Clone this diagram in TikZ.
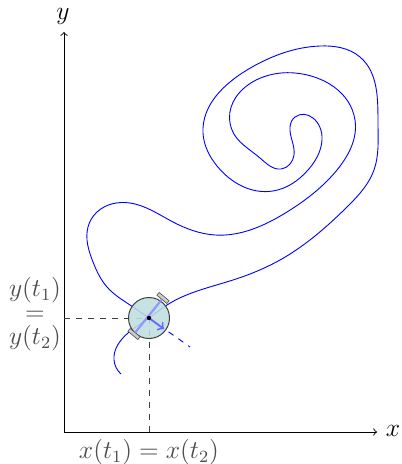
\documentclass[tikz,border=0pt]{standalone}
\usetikzlibrary{calc,hobby}
\definecolor{robotfill}{RGB}{190,222,222}
\begin{document}
\begin{tikzpicture}[x=0.5pt,y=-0.5pt,>=to,font=\fontsize{12}{11.2}\selectfont]
    \tikzset{
        axisline/.style={black,line width=0.45pt},
        axislabel/.style={inner sep=0pt,scale=1.07},
        projline/.style={black!75,dashed,line width=0.45pt},
        pathline/.style={blue,line width=0.45pt},
        readlabel/.style={text=black!70,inner sep=0pt,scale=1.07},
        robotbody/.style={draw=black!75,fill=robotfill,fill opacity=0.88,line width=0.5pt,circle,minimum size=20.5pt,inner sep=0pt},
        wheelbox/.style={draw=black!70,fill=black!20,line width=0.3pt,rectangle,minimum width=6.5pt,minimum height=1.8pt,inner sep=0pt,rotate=-40},
        axleline/.style={blue!45,line width=1.1pt,opacity=0.85},
        headingline/.style={->,blue!60,line width=0.9pt}
    }
    \useasboundingbox (0,0) rectangle (401,464);

    \coordinate (origin) at (64,432);
    \coordinate (yend) at (64,32);
    \coordinate (xend) at (377,432);
    \coordinate (robot) at (149,318);
    \coordinate (yfoot) at (64,318);
    \coordinate (xfoot) at (149,432);
    \coordinate (ahead) at (190,347);
    \coordinate (heading) at (164,329);

    \draw[pathline,use Hobby shortcut]
        (121,374) .. (114,360) .. (128,333) .. (149,318) .. (167,305) .. (233,280)
        .. (280,260) .. (347,207) .. (374,170) .. (378,125) .. (360,57) .. (320,46)
        .. (247,70) .. (203,133) .. (217,166) .. (273,191) .. (308,170) .. (322,140)
        .. (295,117) .. (290,127) .. (294,155) .. (281,169) .. (260,158) .. (232,130)
        .. (295,73) .. (355,120) .. (337,170) .. (287,212) .. (215,235) .. (173,222)
        .. (130,203) .. (97,212) .. (88,227) .. (93,262) .. (107,287) .. (130,305) .. (149,318);
    \draw[pathline,dashed] (robot) -- (ahead);

    \draw[axisline,->] (origin) -- (yend);
    \draw[axisline,->] (origin) -- (xend);
    \node[axislabel] (ylabel) at (63,16) {$y$};
    \node[axislabel] (xlabel) at (393,431) {$x$};

    \draw[projline] (yfoot) -- (robot);
    \draw[projline] (robot) -- (xfoot);

    \node[robotbody] (body) at (robot) {};
    \node[wheelbox] (wheelb) at (163,298) {};
    \node[wheelbox] (wheela) at (134,334) {};
    \draw[axleline] (wheela) -- (wheelb);
    \draw[headingline] (robot) -- (heading);
    \fill[black] (robot) circle (2.2);

    \node[readlabel,align=center] (ytext) at (35,314) {$y(t_1)$\\$=$\\$y(t_2)$};
    \node[readlabel] (xtext) at (149,452) {$x(t_1)=x(t_2)$};
\end{tikzpicture}
\end{document}
